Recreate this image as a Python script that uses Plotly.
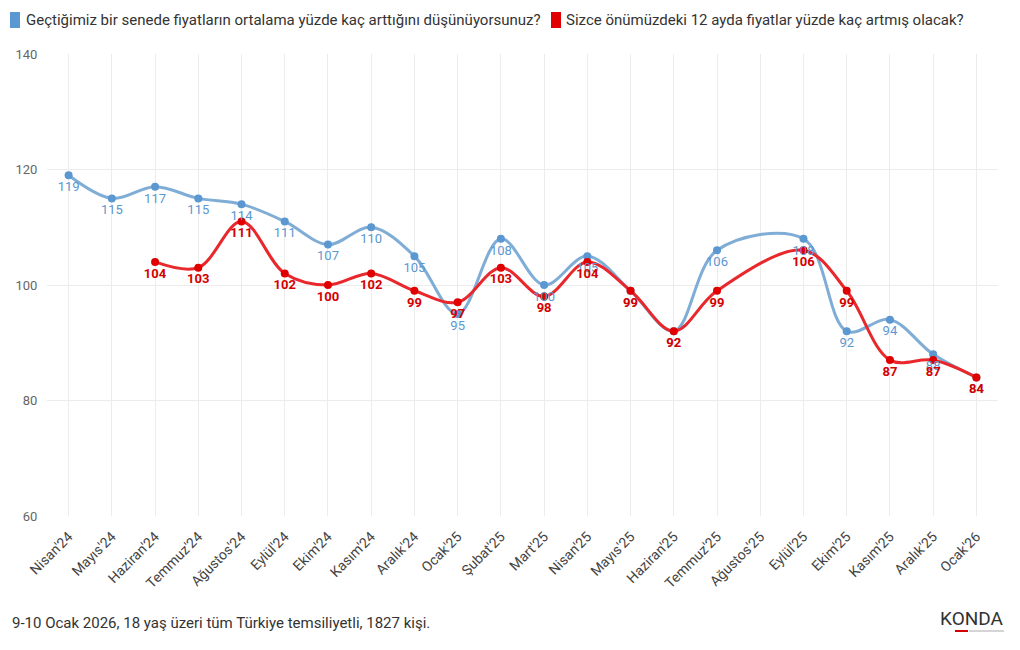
import plotly.graph_objects as go

categories = ["Nisan'24", "Mayıs'24", "Haziran'24", "Temmuz'24", "Ağustos'24", "Eylül'24",
              "Ekim'24", "Kasım'24", "Aralık'24", "Ocak'25", "Şubat'25", "Mart'25",
              "Nisan'25", "Mayıs'25", "Haziran'25", "Temmuz'25", "Ağustos'25", "Eylül'25",
              "Ekim'25", "Kasım'25", "Aralık'25", "Ocak'26"]
past = [119, 115, 117, 115, 114, 111, 107, 110, 105, 95, 108, 100,
        105, 99, 92, 106, None, 108, 92, 94, 88, 84]
future = [None, None, 104, 103, 111, 102, 100, 102, 99, 97, 103, 98,
          104, 99, 92, 99, None, 106, 99, 87, 87, 84]
name_past = "Geçtiğimiz bir senede fiyatların ortalama yüzde kaç arttığını düşünüyorsunuz?"
name_future = "Sizce önümüzdeki 12 ayda fiyatlar yüzde kaç artmış olacak?"
y_ticks = [60, 80, 100, 120, 140]

FONT = "Roboto, sans-serif"
BLUE_LINE = "#7fadd6"
BLUE_MK = "#5b97d1"
RED_LINE = "#e8282c"
RED_MK = "#e00000"

OFF = 8  # page body margin
W, H = 1020 - 2 * OFF, 650 - 2 * OFF
# reference pixel positions of plot area: left 47, right 998, top 54, bottom 516
ML, MT = 47 - OFF, 54 - OFF
MR = W - (998 - OFF)
MB = H - (516 - OFF)
PW, PH = W - ML - MR, H - MT - MB

def px(x):
    return (x - OFF - ML) / PW

def py(y):
    return (H - MB - (y - OFF)) / PH

fig = go.Figure()

def txt(vals):
    return ["" if v is None else str(v) for v in vals]

# lines + markers
fig.add_trace(go.Scatter(
    x=categories, y=past, mode="lines+markers", name=name_past,
    line=dict(color=BLUE_LINE, width=3, shape="spline", smoothing=1.0),
    marker=dict(color=BLUE_MK, size=8), connectgaps=True, showlegend=False))
fig.add_trace(go.Scatter(
    x=categories, y=future, mode="lines+markers", name=name_future,
    line=dict(color=RED_LINE, width=3, shape="spline", smoothing=1.0),
    marker=dict(color=RED_MK, size=8), connectgaps=True, showlegend=False))
# data labels on top of all lines (invisible markers keep the label offset)
fig.add_trace(go.Scatter(
    x=categories, y=past, mode="markers+text", text=txt(past), textposition="bottom center",
    marker=dict(size=8, color="rgba(0,0,0,0)"),
    textfont=dict(color="#5b97d1", size=13, family=FONT), showlegend=False, hoverinfo="skip"))
fig.add_trace(go.Scatter(
    x=categories, y=future, mode="markers+text",
    text=["<b>%s</b>" % t if t else "" for t in txt(future)], textposition="bottom center",
    marker=dict(size=8, color="rgba(0,0,0,0)"),
    textfont=dict(color="#d40000", size=13, family=FONT), showlegend=False, hoverinfo="skip"))

# legend drawn as shapes + annotations
for nm, col, ix, tx in [(name_past, BLUE_MK, 10, 24), (name_future, RED_MK, 551, 564)]:
    fig.add_shape(type="rect", xref="paper", yref="paper",
                  x0=px(ix), x1=px(ix + 10), y0=py(28), y1=py(12),
                  fillcolor=col, line=dict(width=0))
    fig.add_annotation(text=nm, xref="paper", yref="paper", x=px(tx), y=py(20),
                       xanchor="left", yanchor="middle", showarrow=False,
                       font=dict(size=15, color="#333", family=FONT))

fig.add_annotation(text="9-10 Ocak 2026, 18 yaş üzeri tüm Türkiye temsiliyetli, 1827 kişi.",
                   xref="paper", yref="paper", x=px(10), y=py(623), xanchor="left", yanchor="middle",
                   showarrow=False, font=dict(size=15, color="#333", family=FONT))
fig.add_annotation(text="KONDA", xref="paper", yref="paper",
                   x=px(1006), y=py(618), xanchor="right", yanchor="middle", showarrow=False,
                   font=dict(size=19, color="#333", family=FONT))
fig.add_shape(type="line", xref="paper", yref="paper", x0=px(955), x1=px(968), y0=py(631), y1=py(631),
              line=dict(color="#d40000", width=2))
fig.add_shape(type="line", xref="paper", yref="paper", x0=px(969), x1=px(1004), y0=py(631), y1=py(631),
              line=dict(color="#aaaaaa", width=1))

fig.update_layout(
    width=W, height=H,
    margin=dict(l=ML, r=MR, t=MT, b=MB, autoexpand=False),
    paper_bgcolor="white", plot_bgcolor="white",
    font=dict(family=FONT, size=13, color="#444"),
    showlegend=False,
    xaxis=dict(type="category", categoryorder="array", categoryarray=categories,
               range=[-0.5, len(categories) - 0.5], showgrid=True, gridcolor="#ececec",
               tickangle=-45, tickfont=dict(size=14, color="#444"), ticks="outside",
               ticklen=6, tickcolor="white", showline=False, zeroline=False),
    yaxis=dict(range=[60, 140], tickvals=y_ticks, showgrid=True, gridcolor="#ececec",
               tickfont=dict(size=13, color="#666"), zeroline=False, ticks="outside",
               ticklen=6, tickcolor="white"),
)

fig.write_html("out.html")
